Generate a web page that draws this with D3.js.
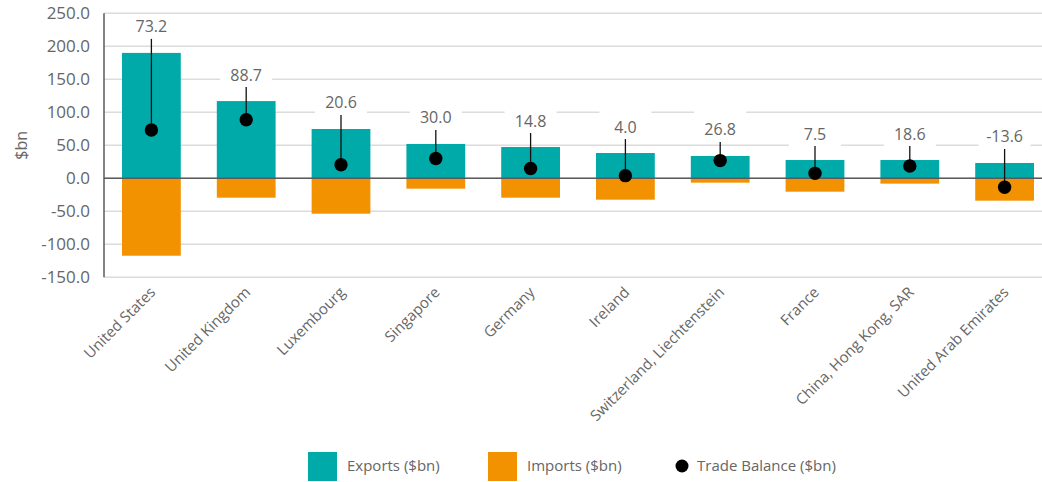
<!DOCTYPE html>
<html>
<head>
<meta charset="utf-8">
<script src="https://cdn.jsdelivr.net/npm/d3@7/dist/d3.min.js"></script>
<style>
  html, body { margin: 0; padding: 0; background: #fff; }
  svg { display: block; font-family: "Open Sans", "Noto Sans", sans-serif; }
</style>
</head>
<body>
<svg id="chart" width="1042" height="482"></svg>
<script>
// Trade by partner economy, $bn
const categories = [
  "United States", "United Kingdom", "Luxembourg", "Singapore", "Germany",
  "Ireland", "Switzerland, Liechtenstein", "France", "China, Hong Kong, SAR",
  "United Arab Emirates"
];
const exportsBn = [190.0, 117.0, 74.7, 52.0, 47.4, 38.3, 33.8, 27.7, 27.7, 23.2];
const importsBn = [-117.3, -29.4, -53.6, -15.7, -29.4, -32.4, -6.6, -20.3, -8.1, -33.9];
const balanceBn = [73.2, 88.7, 20.6, 30.0, 14.8, 4.0, 26.8, 7.5, 18.6, -13.6];
const yTicks = [-150, -100, -50, 0, 50, 100, 150, 200, 250];
const seriesNames = ["Exports ($bn)", "Imports ($bn)", "Trade Balance ($bn)"];

const teal = "#00aaa9";
const orange = "#f29200";
const textGrey = "#666666";

// one decimal, plain hyphen for negatives
const fmt = v => d3.format(".1f")(v).replace("\u2212", "-");

const svg = d3.select("#chart");
const plot = { left: 104, right: 1052, top: 13.3, bottom: 277.3 };

const x = d3.scaleBand()
  .domain(categories)
  .range([plot.left, plot.right])
  .paddingInner(0.38)
  .paddingOuter(0.19);

const y = d3.scaleLinear()
  .domain([-150, 250])
  .range([plot.bottom, plot.top]);

// gridlines
svg.append("g")
  .selectAll("line")
  .data(yTicks)
  .join("line")
  .attr("x1", plot.left)
  .attr("x2", plot.right)
  .attr("y1", d => y(d))
  .attr("y2", d => y(d))
  .attr("stroke", "#dcdcdc")
  .attr("stroke-width", 1.5);

// y tick labels
svg.append("g")
  .selectAll("text")
  .data(yTicks)
  .join("text")
  .attr("x", plot.left - 14)
  .attr("y", d => y(d))
  .attr("dy", "0.36em")
  .attr("text-anchor", "end")
  .attr("font-size", 17)
  .attr("fill", textGrey)
  .text(fmt);

// y axis title
svg.append("text")
  .attr("transform", `translate(27, ${y(50)}) rotate(-90)`)
  .attr("text-anchor", "middle")
  .attr("font-size", 16)
  .attr("fill", textGrey)
  .text("$bn");

// exports
svg.append("g")
  .selectAll("rect")
  .data(categories)
  .join("rect")
  .attr("x", d => x(d))
  .attr("width", x.bandwidth())
  .attr("y", (d, i) => y(exportsBn[i]))
  .attr("height", (d, i) => y(0) - y(exportsBn[i]))
  .attr("fill", teal);

// imports
svg.append("g")
  .selectAll("rect")
  .data(categories)
  .join("rect")
  .attr("x", d => x(d))
  .attr("width", x.bandwidth())
  .attr("y", y(0))
  .attr("height", (d, i) => y(importsBn[i]) - y(0))
  .attr("fill", orange);

// axis lines
svg.append("line")
  .attr("x1", plot.left).attr("x2", plot.right)
  .attr("y1", y(0)).attr("y2", y(0))
  .attr("stroke", "#5a5a5a").attr("stroke-width", 1.5);
svg.append("line")
  .attr("x1", plot.left).attr("x2", plot.left)
  .attr("y1", plot.top).attr("y2", plot.bottom)
  .attr("stroke", "#5a5a5a").attr("stroke-width", 1.5);

// balance labels sit a fixed gap above the export bar, joined to the dot
const cx = d => x(d) + x.bandwidth() / 2;
const lineTop = i => y(exportsBn[i]) - 14;

const labels = svg.append("g")
  .selectAll("g")
  .data(categories)
  .join("g");

labels.append("rect")
  .attr("x", d => cx(d) - 26)
  .attr("width", 52)
  .attr("y", (d, i) => Math.max(lineTop(i) - 32, plot.top + 1.5))
  .attr("height", (d, i) => lineTop(i) - Math.max(lineTop(i) - 32, plot.top + 1.5))
  .attr("fill", "#fff");

labels.append("text")
  .attr("x", d => cx(d))
  .attr("y", (d, i) => lineTop(i) - 6.5)
  .attr("text-anchor", "middle")
  .attr("font-size", 16)
  .attr("fill", textGrey)
  .text((d, i) => fmt(balanceBn[i]));

labels.append("line")
  .attr("x1", d => cx(d))
  .attr("x2", d => cx(d))
  .attr("y1", (d, i) => lineTop(i))
  .attr("y2", (d, i) => y(balanceBn[i]))
  .attr("stroke", "#111")
  .attr("stroke-width", 1.3);

labels.append("circle")
  .attr("cx", d => cx(d))
  .attr("cy", (d, i) => y(balanceBn[i]))
  .attr("r", 6.7)
  .attr("fill", "#000");

// category labels
svg.append("g")
  .selectAll("text")
  .data(categories)
  .join("text")
  .attr("transform", d => `translate(${cx(d) + 5}, ${plot.bottom + 16}) rotate(-45)`)
  .attr("text-anchor", "end")
  .attr("font-size", 15)
  .attr("fill", textGrey)
  .text(d => d);

// legend
const legend = svg.append("g").attr("transform", "translate(0, 466)");
const legendItems = [
  { name: seriesNames[0], kind: "rect", color: teal, x: 308 },
  { name: seriesNames[1], kind: "rect", color: orange, x: 488 },
  { name: seriesNames[2], kind: "dot", color: "#000", x: 676 }
];
legendItems.forEach(item => {
  if (item.kind === "rect") {
    legend.append("rect")
      .attr("x", item.x).attr("y", -14)
      .attr("width", 29).attr("height", 29)
      .attr("fill", item.color);
  } else {
    legend.append("circle")
      .attr("cx", item.x + 6).attr("cy", 0).attr("r", 6.5)
      .attr("fill", item.color);
  }
  legend.append("text")
    .attr("x", item.kind === "rect" ? item.x + 39 : item.x + 21)
    .attr("y", 0)
    .attr("dy", "0.35em")
    .attr("font-size", 15)
    .attr("fill", textGrey)
    .text(item.name);
});
</script>
</body>
</html>
